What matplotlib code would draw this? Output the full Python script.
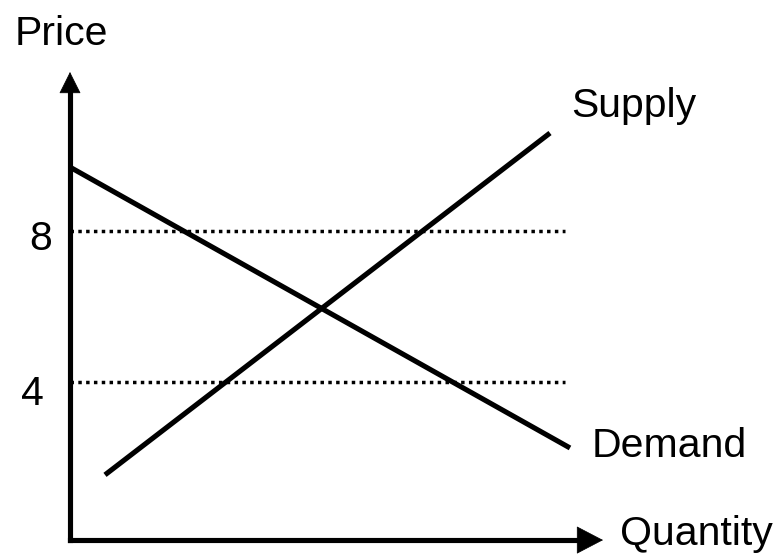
import matplotlib
matplotlib.use("Agg")
import matplotlib.pyplot as plt

plt.rcParams['font.family'] = ['Liberation Sans', 'DejaVu Sans']

# Data (quantity, price)
demand_q = [0.0, 10.0]
demand_p = [9.68, 2.27]
supply_q = [0.7, 9.6]
supply_p = [1.56, 10.58]
ref_prices = [8, 4]
ref_q = [0.0, 9.9]
tick_labels = ["8", "4"]

axis_origin = (0.0, -0.16)
y_tip = 12.19
x_tip = 10.66

fig = plt.figure(figsize=(7.79, 5.57), dpi=100)
ax = fig.add_axes([0, 0, 1, 1])
ax.set_xlim(-1.4, 14.18)
ax.set_ylim(-0.607, 14.09)
ax.axis('off')

lw = 3.7
# reference dotted lines
for p in ref_prices:
    ax.plot(ref_q, [p, p], color='black', lw=2.5, linestyle=(0, (1, 1.25)),
            dash_capstyle='butt', solid_capstyle='butt')

# demand & supply
ax.plot(demand_q, demand_p, color='black', lw=lw, solid_capstyle='butt')
ax.plot(supply_q, supply_p, color='black', lw=lw, solid_capstyle='butt')

# axes lines
x0, y0 = axis_origin
ax.plot([x0, x0], [y0, y_tip - 0.3], color='black', lw=lw, solid_capstyle='projecting')
ax.plot([x0, x_tip - 0.3], [y0, y0], color='black', lw=lw, solid_capstyle='projecting')
ax.annotate('', xy=(x0, y_tip), xytext=(x0, y0),
            arrowprops=dict(arrowstyle='-|>,head_length=0.72,head_width=0.36',
                            mutation_scale=20, lw=0.5, color='black',
                            shrinkA=0, shrinkB=0))
ax.annotate('', xy=(x_tip, y0), xytext=(x0, y0),
            arrowprops=dict(arrowstyle='-|>,head_length=0.9,head_width=0.47',
                            mutation_scale=20, lw=0.5, color='black',
                            shrinkA=0, shrinkB=0))

fs = 29.5
ax.text(-0.18, 12.9, "Price", fontsize=fs, ha='center', va='baseline')
ax.text(12.53, -0.29, "Quantity", fontsize=fs, ha='center', va='baseline')
ax.text(11.27, 11.0, "Supply", fontsize=fs, ha='center', va='baseline')
ax.text(11.99, 2.03, "Demand", fontsize=fs, ha='center', va='baseline')
ax.text(-0.58, 7.49, tick_labels[0], fontsize=fs, ha='center', va='baseline')
ax.text(-0.75, 3.40, tick_labels[1], fontsize=fs, ha='center', va='baseline')

fig.savefig("out.png", dpi=100)
